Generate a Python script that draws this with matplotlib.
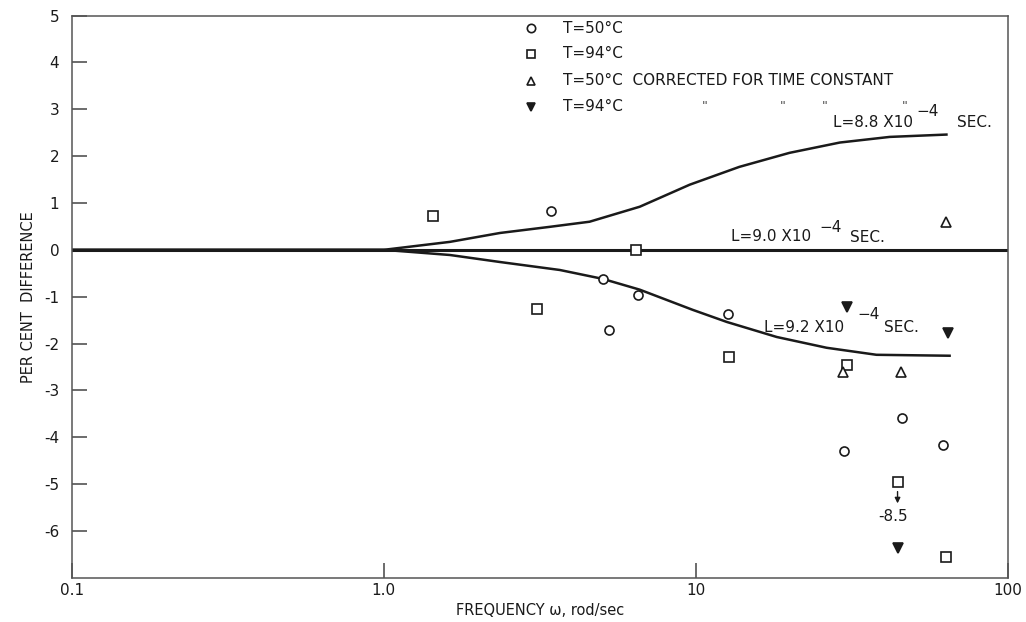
import numpy as np
import matplotlib
matplotlib.use("Agg")
import matplotlib.pyplot as plt
from matplotlib.ticker import FixedLocator, NullLocator

plt.rcParams['font.family'] = ['DejaVu Sans']

# T = 50 C (open circles)
w_50 = [3.43, 5.04, 5.26, 6.52, 12.7, 30.0, 46.0, 61.9]
d_50 = [0.83, -0.62, -1.71, -0.96, -1.37, -4.29, -3.59, -4.17]

# T = 94 C (open squares)
w_94 = [1.44, 3.09, 6.43, 12.8, 30.5, 44.4, 63.7]
d_94 = [0.73, -1.26, 0.0, -2.29, -2.46, -4.96, -6.56]

# T = 50 C corrected for time constant (open triangles)
w_50c = [63.7, 29.6, 45.4]
d_50c = [0.60, -2.61, -2.61]

# T = 94 C corrected for time constant (filled down triangles)
w_94c = [30.5, 64.2, 44.4]
d_94c = [-1.22, -1.77, -6.37]

# computed curves for three values of L
w_up = [0.1, 1.0, 1.63, 2.36, 3.40, 4.57, 6.62, 9.57, 13.8, 20.0, 29.0, 41.9, 63.7]
d_up = [0.0, 0.0, 0.17, 0.36, 0.49, 0.60, 0.92, 1.39, 1.77, 2.07, 2.29, 2.41, 2.46]
w_lo = [0.1, 1.0, 1.63, 2.36, 3.67, 5.04, 6.62, 9.78, 12.6, 18.2, 26.3, 38.0, 65.2]
d_lo = [0.0, 0.0, -0.11, -0.26, -0.43, -0.62, -0.85, -1.28, -1.54, -1.86, -2.09, -2.24, -2.26]
w_mid = [0.1, 100]
d_mid = [0.0, 0.0]

x_ticks = [0.1, 1, 10, 100]
x_labels = ['0.1', '1.0', '10', '100']
y_ticks = list(range(-6, 6))

ink = '#1a1a1a'

fig = plt.figure(figsize=(10.26, 6.22), dpi=100)
ax = fig.add_axes([0.070, 0.071, 0.912, 0.904])

ax.plot(w_mid, d_mid, color=ink, lw=2.2, zorder=2)
ax.plot(w_up, d_up, color=ink, lw=1.8, zorder=2)
ax.plot(w_lo, d_lo, color=ink, lw=1.8, zorder=2)

mk = dict(linestyle='none', markersize=6.5, markeredgewidth=1.2,
          markeredgecolor=ink, zorder=3)
ax.plot(w_50, d_50, marker='o', markerfacecolor='white', **mk)
ax.plot(w_94, d_94, marker='s', markerfacecolor='white', **mk)
ax.plot(w_50c, d_50c, marker='^', markerfacecolor='white', **mk)
ax.plot(w_94c, d_94c, marker='v', markerfacecolor=ink, **mk)

# off-scale point
ax.annotate('', xy=(44.4, -5.47), xytext=(44.4, -5.10),
            arrowprops=dict(arrowstyle='-|>', color=ink, lw=1.0, mutation_scale=8))
ax.text(42.8, -5.70, '-8.5', fontsize=11, color=ink, ha='center', va='center')

# curve labels
lab = dict(fontsize=11, color=ink, ha='left', va='center')
ax.text(27.5, 2.71, 'L=8.8 X10', **lab)
ax.text(51.0, 2.95, '\u22124', **lab)
ax.text(68.7, 2.71, 'SEC.', **lab)
ax.text(13.0, 0.28, 'L=9.0 X10', **lab)
ax.text(25.0, 0.47, '\u22124', **lab)
ax.text(31.2, 0.26, 'SEC.', **lab)
ax.text(16.6, -1.65, 'L=9.2 X10', **lab)
ax.text(33.0, -1.39, '\u22124', **lab)
ax.text(40.3, -1.65, 'SEC.', **lab)

# legend drawn by hand
rows_y = [0.977, 0.932, 0.884, 0.838]
rows_m = [('o', 'white'), ('s', 'white'), ('^', 'white'), ('v', ink)]
rows_t = ['T=50\u00b0C', 'T=94\u00b0C',
          'T=50\u00b0C  CORRECTED FOR TIME CONSTANT', 'T=94\u00b0C']
for yy, (m, fc), t in zip(rows_y, rows_m, rows_t):
    ax.plot([0.491], [yy], marker=m, markersize=6, markeredgewidth=1.2,
            markeredgecolor=ink, markerfacecolor=fc, linestyle='none',
            transform=ax.transAxes, clip_on=False)
    ax.text(0.525, yy, t, fontsize=11, color=ink, ha='left', va='center',
            transform=ax.transAxes)
for xx in [0.676, 0.760, 0.805, 0.890]:
    ax.text(xx, 0.838, '"', fontsize=9, color='#444444', ha='center',
            va='center', transform=ax.transAxes)

ax.set_xscale('log')
ax.set_xlim(0.1, 100)
ax.set_ylim(-7, 5)
ax.xaxis.set_major_locator(FixedLocator(x_ticks))
ax.xaxis.set_minor_locator(NullLocator())
ax.set_xticklabels(x_labels)
ax.set_yticks(y_ticks)
ax.set_yticklabels([str(v) for v in y_ticks])

ax.tick_params(axis='both', direction='in', length=11, width=1.1,
               color='#444444', labelsize=11, labelcolor=ink)
ax.tick_params(axis='y', pad=9)
ax.tick_params(axis='x', pad=4)
for s in ax.spines.values():
    s.set_color('#555555')
    s.set_linewidth(1.1)

ax.set_xlabel('FREQUENCY \u03c9, rod/sec', fontsize=10.5, color=ink, labelpad=3)
ax.set_ylabel('PER CENT  DIFFERENCE', fontsize=10.5, color=ink, labelpad=6)

fig.savefig('out.png', dpi=100)
